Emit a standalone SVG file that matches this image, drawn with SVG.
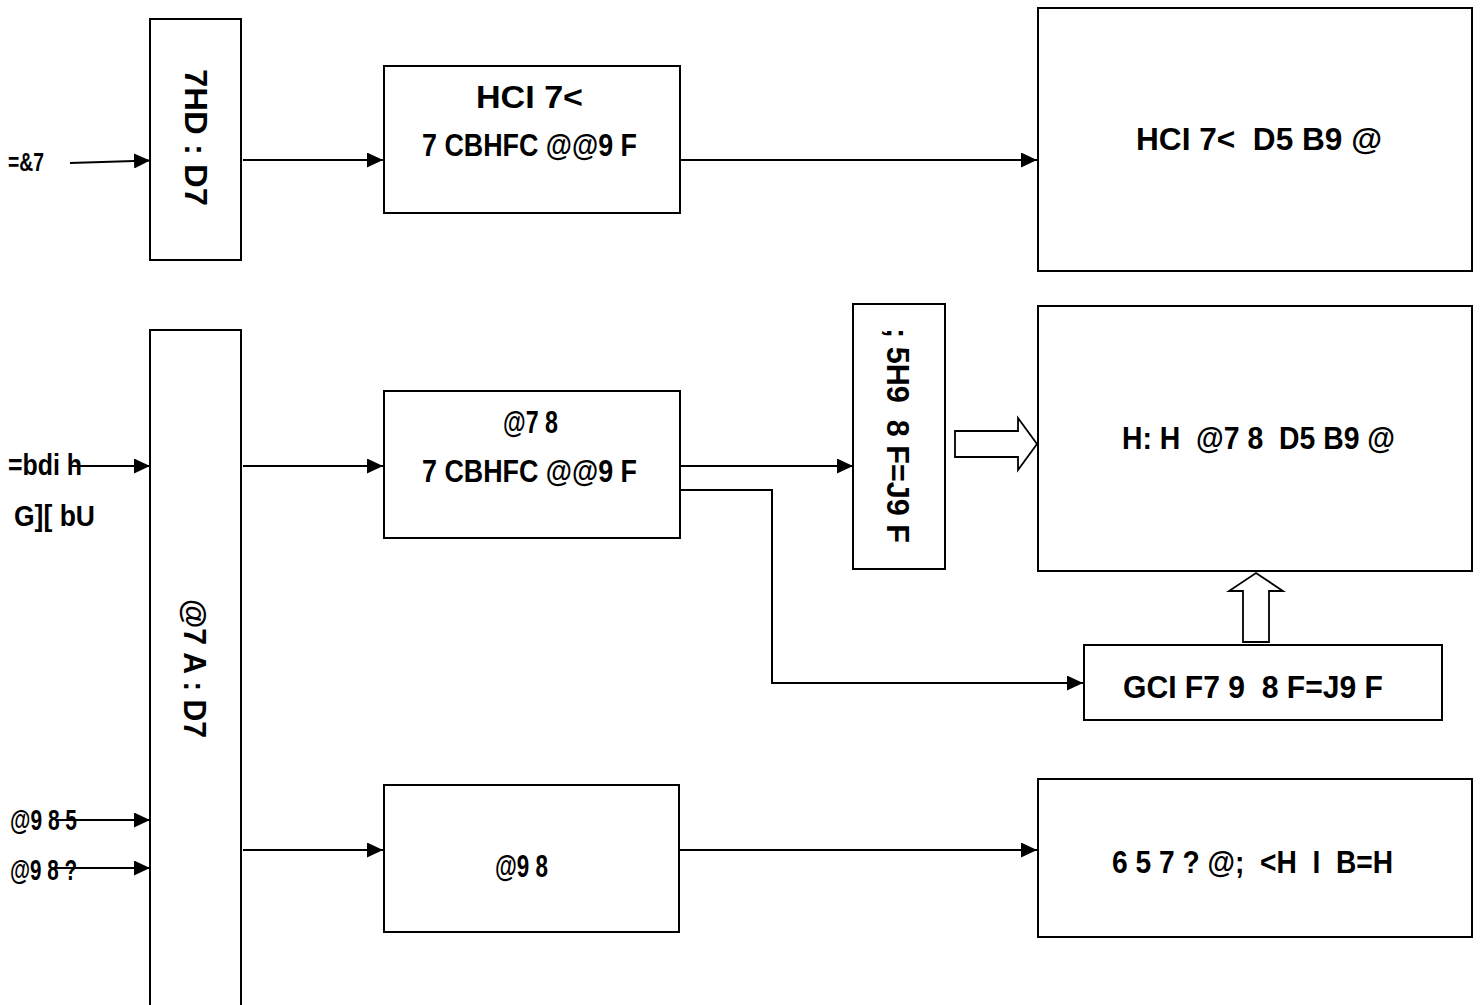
<svg xmlns="http://www.w3.org/2000/svg" width="1480" height="1005" viewBox="0 0 1480 1005">
<style>
.box{fill:#fff;stroke:#000;stroke-width:2}
.t{font-family:"Liberation Sans",Arial,sans-serif;font-weight:bold;font-size:32px;fill:#000;white-space:pre}
.s{font-size:29px}
.ln{stroke:#000;stroke-width:2;fill:none}
.blk{fill:#fff;stroke:#000;stroke-width:1.8}
</style>
<defs>
<marker id="ah" markerWidth="16" markerHeight="15" refX="16" refY="7.5" orient="auto" markerUnits="userSpaceOnUse">
<path d="M0,0 L16,7.5 L0,15 Z" fill="#000"/>
</marker>
</defs>
<rect width="1480" height="1005" fill="#fff"/>

<g id="nodeA">
<rect class="box" x="150" y="19" width="91" height="241"/>
<text class="t" transform="translate(196,137) rotate(90)" x="-68" y="11.5" textLength="137" lengthAdjust="spacingAndGlyphs">7HD : D7</text>
</g>
<g id="nodeB">
<rect class="box" x="384" y="66" width="296" height="147"/>
<text class="t" x="476" y="108" textLength="107" lengthAdjust="spacingAndGlyphs">HCI 7&lt;</text>
<text class="t" x="422" y="156" textLength="215" lengthAdjust="spacingAndGlyphs">7 CBHFC @@9 F</text>
</g>
<g id="nodeC">
<rect class="box" x="1038" y="8" width="434" height="263"/>
<text class="t" x="1136" y="150" textLength="246" lengthAdjust="spacingAndGlyphs">HCI 7&lt;  D5 B9 @</text>
</g>
<g id="nodeD">
<rect class="box" x="150" y="330" width="91" height="700"/>
<text class="t" transform="translate(195,668) rotate(90)" x="-69" y="11.5" textLength="139" lengthAdjust="spacingAndGlyphs">@7 A : D7</text>
</g>
<g id="nodeE">
<rect class="box" x="384" y="391" width="296" height="147"/>
<text class="t" x="503" y="433" textLength="55" lengthAdjust="spacingAndGlyphs">@7 8</text>
<text class="t" x="422" y="482" textLength="215" lengthAdjust="spacingAndGlyphs">7 CBHFC @@9 F</text>
</g>
<g id="nodeF">
<rect class="box" x="853" y="304" width="92" height="265"/>
<text class="t" transform="translate(898,436) rotate(90)" x="-108" y="11.5" textLength="215" lengthAdjust="spacingAndGlyphs">; 5H9  8 F=J9 F</text>
</g>
<g id="nodeG">
<rect class="box" x="1038" y="306" width="434" height="265"/>
<text class="t" x="1122" y="449" textLength="273" lengthAdjust="spacingAndGlyphs">H: H  @7 8  D5 B9 @</text>
</g>
<g id="nodeH">
<rect class="box" x="1084" y="645" width="358" height="75"/>
<text class="t" x="1123" y="698" textLength="260" lengthAdjust="spacingAndGlyphs">GCI F7 9  8 F=J9 F</text>
</g>
<g id="nodeI">
<rect class="box" x="384" y="785" width="295" height="147"/>
<text class="t" x="495" y="877" textLength="53" lengthAdjust="spacingAndGlyphs">@9 8</text>
</g>
<g id="nodeJ">
<rect class="box" x="1038" y="779" width="434" height="158"/>
<text class="t" x="1112" y="873" textLength="281" lengthAdjust="spacingAndGlyphs">6 5 7 ? @;  &lt;H  I  B=H</text>
</g>

<g id="labels">
<text class="t s" x="8" y="171" style="font-size:26px" textLength="36" lengthAdjust="spacingAndGlyphs">=&amp;7</text>
<text class="t s" x="8" y="475" textLength="74" lengthAdjust="spacingAndGlyphs">=bdi h</text>
<text class="t s" x="14" y="526" textLength="81" lengthAdjust="spacingAndGlyphs">G][ bU</text>
<text class="t s" x="10" y="830" textLength="67" lengthAdjust="spacingAndGlyphs">@9 8 5</text>
<text class="t s" x="10" y="880" textLength="67" lengthAdjust="spacingAndGlyphs">@9 8 ?</text>
</g>

<g id="connectors">
<line class="ln" x1="70" y1="163" x2="150" y2="160.5" marker-end="url(#ah)"/>
<line class="ln" x1="243" y1="160" x2="383" y2="160" marker-end="url(#ah)"/>
<line class="ln" x1="681" y1="160" x2="1037" y2="160" marker-end="url(#ah)"/>
<line class="ln" x1="72" y1="466" x2="150" y2="466" marker-end="url(#ah)"/>
<line class="ln" x1="243" y1="466" x2="383" y2="466" marker-end="url(#ah)"/>
<line class="ln" x1="681" y1="466" x2="853" y2="466" marker-end="url(#ah)"/>
<polyline class="ln" points="681,490 772,490 772,683 1083,683" marker-end="url(#ah)"/>
<line class="ln" x1="55" y1="820" x2="150" y2="820" marker-end="url(#ah)"/>
<line class="ln" x1="55" y1="868" x2="150" y2="868" marker-end="url(#ah)"/>
<line class="ln" x1="243" y1="850" x2="383" y2="850" marker-end="url(#ah)"/>
<line class="ln" x1="680" y1="850" x2="1037" y2="850" marker-end="url(#ah)"/>
<polygon class="blk" points="955,431 1018,431 1018,418 1037,444 1018,470 1018,457 955,457"/>
<polygon class="blk" points="1243,642 1243,591 1229,591 1256,573 1283,591 1269,591 1269,642"/>
</g>
</svg>
